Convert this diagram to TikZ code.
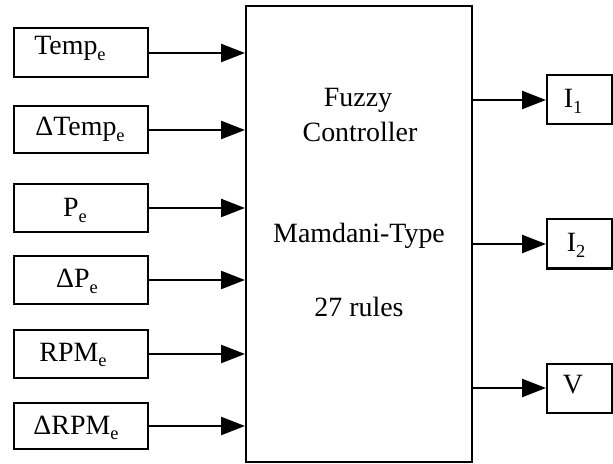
\documentclass[tikz,border=0pt]{standalone}
\usepackage{fontspec}
\setmainfont{Liberation Serif}
\usetikzlibrary{arrows.meta}

% subscript as set by a word processor: smaller and slightly lowered
\newcommand\lowsub[1]{\raisebox{-0.18em}{\fontsize{18.5}{18}\selectfont #1}}

\begin{document}
\begin{tikzpicture}[x=1bp, y=-1bp,
  blk/.style={draw, line width=2bp, inner sep=0pt, minimum width=#1},
  blk/.default=134bp,
  txt/.style={anchor=base, inner sep=0pt, font=\fontsize{28}{33}\selectfont},
  feed/.style={-{Triangle[length=24bp, width=18bp]}, line width=2.4bp}]
\useasboundingbox (0,0) rectangle (613,464);

% controller block
\node[blk=226bp, minimum height=456bp] (ctrl) at (359,234) {};
\node[txt] (c1) at (358,107) {Fuzzy};
\node[txt] (c2) at (360,142) {Controller};
\node[txt] (c3) at (359,243) {Mamdani-Type};
\node[txt] (c4) at (359,316) {27 rules};

% input blocks
\node[blk, minimum height=49bp] (in1) at (81,53)  {};
\node[blk, minimum height=47bp] (in2) at (81,130) {};
\node[blk, minimum height=48bp] (in3) at (81,208) {};
\node[blk, minimum height=47bp] (in4) at (81,280) {};
\node[blk, minimum height=48bp] (in5) at (81,354) {};
\node[blk, minimum height=46bp] (in6) at (81,426) {};

\node[txt] (t1) at (70,55)  {Temp\lowsub{e}};
\node[txt] (t2) at (80,136) {ΔTemp\lowsub{e}};
\node[txt] (t3) at (75,217) {P\lowsub{e}};
\node[txt] (t4) at (77,288) {ΔP\lowsub{e}};
\node[txt] (t5) at (73,361) {RPM\lowsub{e}};
\node[txt] (t6) at (76,434) {ΔRPM\lowsub{e}};

% output blocks
\node[blk=65bp, minimum height=49bp] (o1) at (579.5,100) {};
\node[blk=65bp, minimum height=49bp] (o2) at (579.5,244) {};
\node[blk=65bp, minimum height=49bp] (o3) at (579.5,388) {};

\node[txt] (u1) at (573,108) {I\lowsub{1}};
\node[txt] (u2) at (576,252) {I\lowsub{2}};
\node[txt] (u3) at (573,393) {V};

% signal flow
\foreach \i in {in1,in2,in3,in4,in5,in6}
  \draw[feed] (\i.east) -- (\i.east -| ctrl.west);
\foreach \o in {o1,o2,o3}
  \draw[feed] (ctrl.east |- \o.west) -- (\o.west);
\end{tikzpicture}
\end{document}
